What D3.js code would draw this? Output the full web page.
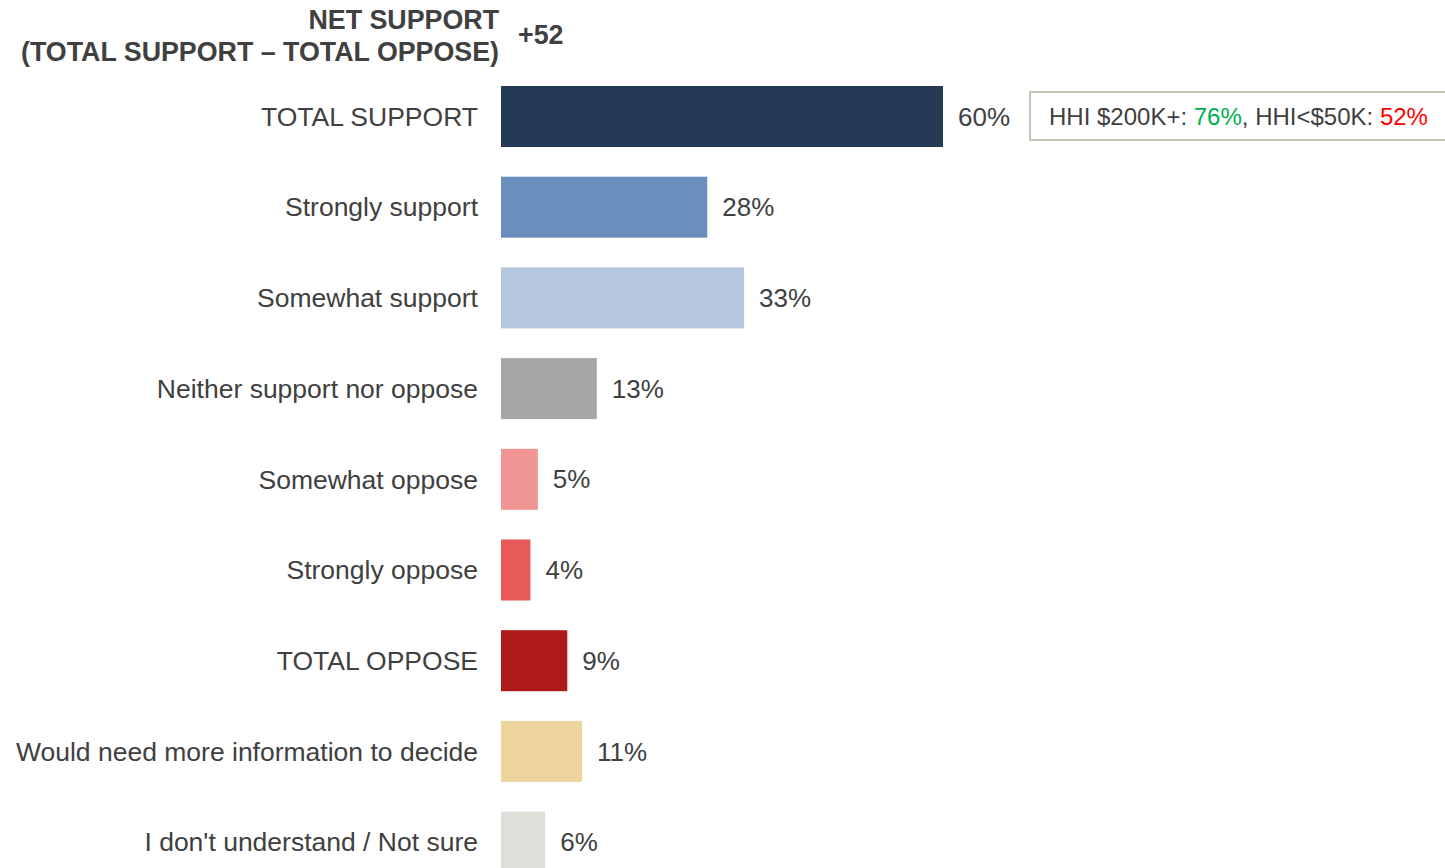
<!DOCTYPE html>
<html><head><meta charset="utf-8">
<script src="https://cdn.jsdelivr.net/npm/d3@7"></script>
<style>body{margin:0;background:#fff;}svg{display:block;font-family:"Liberation Sans",Arial,sans-serif;}</style>
</head><body>
<svg id="c" width="1445" height="868"></svg>
<script>
const categories = ["TOTAL SUPPORT","Strongly support","Somewhat support","Neither support nor oppose","Somewhat oppose","Strongly oppose","TOTAL OPPOSE","Would need more information to decide","I don't understand / Not sure"];
const values = [60,28,33,13,5,4,9,11,6];
const colors = ["#243a55","#6a8fbd","#b4c7df","#a6a6a6","#f09494","#e85a5a","#ae1a1a","#ecd49c","#dfdfda"];
const titleLines = ["NET SUPPORT","(TOTAL SUPPORT \u2013 TOTAL OPPOSE)"];
const netSupport = "+52";
const calloutParts = [{t:"HHI $200K+: ",c:"#404040"},{t:"76%",c:"#00b050"},{t:", HHI<$50K: ",c:"#404040"},{t:"52%",c:"#ff0000"}];

const svg = d3.select("#c");
const x = d3.scaleLinear().domain([0,60]).range([501,943]);
const step = 90.7, bh = 61;
const y = d3.scaleBand().domain(categories).range([86,86+8*step+bh]).paddingInner((step-bh)/step).paddingOuter(0);

svg.selectAll("rect.bar").data(categories).join("rect").attr("class","bar")
  .attr("x",x(0)).attr("y",d=>y(d)).attr("height",y.bandwidth())
  .attr("width",(d,i)=>x(values[i])-x(0)).attr("fill",(d,i)=>colors[i]);

svg.selectAll("text.cat").data(categories).join("text").attr("class","cat")
  .attr("x",478).attr("y",d=>Math.min(y(d)+y.bandwidth()/2, 842)).attr("dy","0.35em")
  .attr("text-anchor","end").attr("font-size",26.5).attr("fill","#404040").text(d=>d);

svg.selectAll("text.val").data(categories).join("text").attr("class","val")
  .attr("x",(d,i)=>x(values[i])+15).attr("y",d=>Math.min(y(d)+y.bandwidth()/2, 843)).attr("dy","0.35em")
  .attr("font-size",26).attr("fill","#404040").text((d,i)=>values[i]+"%");

svg.selectAll("text.title").data(titleLines).join("text").attr("class","title")
  .attr("x",499).attr("y",(d,i)=>20+i*32).attr("dy","0.35em").attr("text-anchor","end")
  .attr("font-size",26.8).attr("font-weight","bold").attr("fill","#404040").text(d=>d);
svg.append("text").attr("x",518).attr("y",35).attr("dy","0.35em").attr("font-size",26.8)
  .attr("font-weight","bold").attr("fill","#404040").text(netSupport);

svg.append("rect").attr("x",1030).attr("y",92).attr("width",430).attr("height",48)
  .attr("fill","#fff").attr("stroke","#c4c4b8").attr("stroke-width",2);
const ct = svg.append("text").attr("x",1049).attr("y",117).attr("dy","0.35em").attr("font-size",24);
ct.selectAll("tspan").data(calloutParts).join("tspan").attr("fill",d=>d.c).text(d=>d.t);
</script>
</body></html>
